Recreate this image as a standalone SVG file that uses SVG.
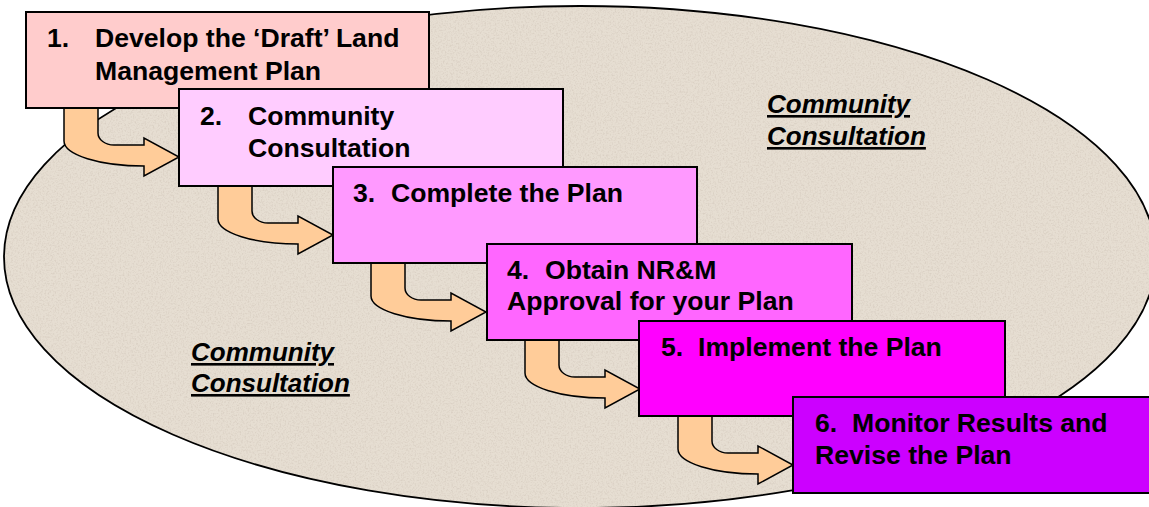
<svg xmlns="http://www.w3.org/2000/svg" xmlns:xlink="http://www.w3.org/1999/xlink" width="1149" height="507" viewBox="0 0 1149 507">
<style>
.box{stroke:#000;stroke-width:2}
.t{font-family:'Liberation Sans',Arial,sans-serif;font-weight:bold;font-size:26.6px;fill:#000}
.lbl{font-family:'Liberation Sans',Arial,sans-serif;font-weight:bold;font-style:italic;font-size:26px;fill:#000;text-decoration:underline}
.arr{fill:#FFCC99;stroke:#000;stroke-width:1.5;stroke-linejoin:miter}
</style>
<defs>
<filter id="grain" x="0" y="0" width="100%" height="100%">
<feTurbulence type="fractalNoise" baseFrequency="0.6" numOctaves="3" seed="4" result="n"/>
<feColorMatrix in="n" type="matrix" values="0 0 0 0 0.70  0 0 0 0 0.63  0 0 0 0 0.55  2.6 0 0 0 -1.15" result="sp"/>
<feComposite in="sp" in2="SourceAlpha" operator="in" result="sp2"/>
<feMerge><feMergeNode in="SourceGraphic"/><feMergeNode in="sp2"/></feMerge>
</filter>
<path id="arrow" class="arr" d="M0,0 L0,33 A80,25 0 0 0 80,58 L80,68 L115,49 L80,30 L80,37 L50,37 A16,12 0 0 1 34,25 L34,0 Z"/>
</defs>
<rect width="1149" height="507" fill="#fff"/>
<g id="background">
<ellipse cx="580" cy="257" rx="576" ry="251" fill="#E6DED2" filter="url(#grain)"/>
<ellipse cx="580" cy="257" rx="576" ry="251" fill="none" stroke="#000" stroke-width="1.8"/>
</g>
<g id="connectors">
<use xlink:href="#arrow" transform="translate(64,108)"/>
<use xlink:href="#arrow" transform="translate(218,186)"/>
<use xlink:href="#arrow" transform="translate(371,263)"/>
<use xlink:href="#arrow" transform="translate(525,340)"/>
<use xlink:href="#arrow" transform="translate(678,416)"/>
</g>
<g id="label-upper">
<text class="lbl" x="767" y="113">Community</text>
<text class="lbl" x="767" y="145">Consultation</text>
</g>
<g id="label-lower">
<text class="lbl" x="191" y="361">Community</text>
<text class="lbl" x="191" y="392">Consultation</text>
</g>
<g id="step1">
<rect class="box" x="26" y="12" width="403" height="96" fill="#FFCCCC"/>
<text class="t" y="47"><tspan x="47">1.</tspan><tspan x="95">Develop the ‘Draft’ Land</tspan></text>
<text class="t" x="95" y="80">Management Plan</text>
</g>
<g id="step2">
<rect class="box" x="179" y="89" width="384" height="97" fill="#FFCCFF"/>
<text class="t" y="125"><tspan x="200">2.</tspan><tspan x="248">Community</tspan></text>
<text class="t" x="248" y="157">Consultation</text>
</g>
<g id="step3">
<rect class="box" x="333" y="167" width="364" height="96" fill="#FF99FF"/>
<text class="t" y="202"><tspan x="353">3.</tspan><tspan x="391">Complete the Plan</tspan></text>
</g>
<g id="step4">
<rect class="box" x="487" y="244" width="365" height="96" fill="#FF66FF"/>
<text class="t" y="279"><tspan x="507">4.</tspan><tspan x="545">Obtain NR&amp;M</tspan></text>
<text class="t" x="507" y="310">Approval for your Plan</text>
</g>
<g id="step5">
<rect class="box" x="639" y="321" width="366" height="95" fill="#FF00FF"/>
<text class="t" y="356"><tspan x="661">5.</tspan><tspan x="698">Implement the Plan</tspan></text>
</g>
<g id="step6">
<rect class="box" x="793" y="397" width="370" height="96" fill="#CC00FF"/>
<text class="t" y="432"><tspan x="815">6.</tspan><tspan x="852">Monitor Results and</tspan></text>
<text class="t" x="815" y="464">Revise the Plan</text>
</g>
</svg>
